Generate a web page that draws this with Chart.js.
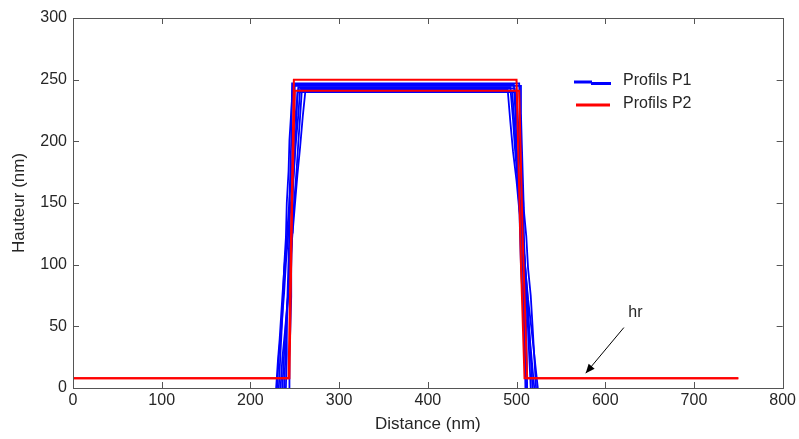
<!DOCTYPE html>
<html>
<head>
<meta charset="utf-8">
<script src="https://cdn.jsdelivr.net/npm/chart.js@4"></script>
<style>
  html, body { margin: 0; padding: 0; background: #fff; }
  #c { display: block; }
</style>
</head>
<body>
<canvas id="c" width="799" height="439"></canvas>
<script>
// ---- Data (nm) ----
const xTickValues = [0, 100, 200, 300, 400, 500, 600, 700, 800];
const yTickValues = [0, 50, 100, 150, 200, 250, 300];
const seriesNames = ['Profils P1', 'Profils P2'];

// Profils P1 (blue): [distance, hauteur]
const profilP1_1 = [[232,0],[234,30],[236,58],[238,98],[240,122],[241,150],[243,176],[244,201],[246,224],[248,246],[497,246],[499,220],[500,198],[502,172],[503,151],[504,124],[505,99],[507,70],[508,52],[511,0]];
const profilP1_2 = [[229,0],[231,22],[233,40],[236,74],[238,95],[241,121],[243,142],[246,172],[248,196],[251,222],[254,244],[493,244],[496,218],[498,196],[501,170],[503,148],[506,126],[508,100],[511,72],[514,48],[520,0]];
const profilP1_3 = [[236,0],[238,28],[240,52],[243,80],[245,104],[247,125],[249,148],[252,176],[254,199],[256,220],[258,242],[490,242],[493,216],[496,192],[500,168],[503,145],[507,122],[510,96],[513,72],[517,47],[524,0]];
const profilP1_4 = [[240,0],[241,27],[241,55],[242,80],[243,103],[244,128],[244,153],[245,176],[246,200],[247,247],[503,247],[504,222],[504,199],[505,174],[506,148],[507,126],[507,101],[508,76],[509,50],[510,0]];
const profilP1_5 = [[234,0],[236,24],[239,46],[242,72],[245,99],[247,121],[250,147],[253,173],[256,195],[259,220],[262,241],[495,241],[497,222],[499,198],[502,176],[504,152],[507,128],[509,104],[512,78],[514,51],[518,0]];
const profilP1_6 = [[244,0],[244,25],[245,48],[246,74],[246,97],[247,126],[247,152],[248,175],[249,198],[250,245],[505,245],[505,222],[506,197],[507,173],[508,150],[508,124],[509,98],[510,74],[511,49],[512,0]];
const profilP1_7 = [[230,0],[232,26],[235,50],[238,77],[240,101],[243,128],[246,153],[249,176],[251,197],[254,221],[256,243],[498,243],[500,219],[503,195],[506,170],[508,146],[511,123],[513,97],[516,75],[518,51],[522,0]];
const profilP1_8 = [[238,0],[240,35],[242,68],[244,101],[246,131],[248,162],[250,190],[252,218],[253,240],[500,240],[502,212],[504,183],[506,154],[508,126],[510,95],[512,63],[514,31],[516,0]];

// Profils P2 (red): [distance, hauteur]
const profilP2_1 = [[0,8],[243,8],[245,90],[249,250],[500,250],[505,100],[509,8],[750,8]];
const profilP2_2 = [[0,8],[244,8],[247,150],[250,241],[503,241],[507,120],[512,8],[750,8]];

// Annotation
const hrLabel = 'hr';
const hrTextPos = [634, 61];
const hrArrowFrom = [621, 49];
const hrArrowTo = [578, 12];

const blueProfiles = [profilP1_1, profilP1_2, profilP1_3, profilP1_4, profilP1_5, profilP1_6, profilP1_7, profilP1_8];
const redProfiles = [profilP2_1, profilP2_2];

const toPts = arr => arr.map(p => ({ x: p[0], y: p[1] }));

const datasets = [];
redProfiles.forEach(p => datasets.push({
  label: seriesNames[1], data: toPts(p), borderColor: '#ff0000', borderWidth: 2,
  pointRadius: 0, showLine: true, fill: false, tension: 0, order: 0
}));
blueProfiles.forEach(p => datasets.push({
  label: seriesNames[0], data: toPts(p), borderColor: '#0000ff', borderWidth: 1.8,
  pointRadius: 0, showLine: true, fill: false, tension: 0, order: 1
}));

const FONT = '"Liberation Sans", Arial, sans-serif';
const TXT = '#262626';

const decorPlugin = {
  id: 'decor',
  afterDatasetsDraw(chart) {
    const { ctx, chartArea: a, scales: { x, y } } = chart;
    ctx.save();
    // box
    ctx.strokeStyle = '#555';
    ctx.lineWidth = 1;
    ctx.strokeRect(Math.round(a.left) + 0.5, Math.round(a.top) + 0.5,
                   Math.round(a.right - a.left), Math.round(a.bottom - a.top));
    // inward ticks
    const tl = 6;
    ctx.beginPath();
    xTickValues.forEach(v => {
      const px = Math.round(x.getPixelForValue(v)) + 0.5;
      ctx.moveTo(px, a.bottom); ctx.lineTo(px, a.bottom - tl);
      ctx.moveTo(px, a.top); ctx.lineTo(px, a.top + tl);
    });
    yTickValues.forEach(v => {
      const py = Math.round(y.getPixelForValue(v)) + 0.5;
      ctx.moveTo(a.left, py); ctx.lineTo(a.left + tl, py);
      ctx.moveTo(a.right, py); ctx.lineTo(a.right - tl, py);
    });
    ctx.stroke();

    // arrow
    const fx = x.getPixelForValue(hrArrowFrom[0]), fy = y.getPixelForValue(hrArrowFrom[1]);
    const tx = x.getPixelForValue(hrArrowTo[0]), ty = y.getPixelForValue(hrArrowTo[1]);
    ctx.strokeStyle = '#000';
    ctx.fillStyle = '#000';
    ctx.lineWidth = 1;
    ctx.beginPath(); ctx.moveTo(fx, fy); ctx.lineTo(tx, ty); ctx.stroke();
    const ang = Math.atan2(ty - fy, tx - fx);
    const hl = 10, hw = 0.4;
    ctx.beginPath();
    ctx.moveTo(tx, ty);
    ctx.lineTo(tx - hl * Math.cos(ang - hw), ty - hl * Math.sin(ang - hw));
    ctx.lineTo(tx - hl * Math.cos(ang + hw), ty - hl * Math.sin(ang + hw));
    ctx.closePath(); ctx.fill();
    // hr text
    ctx.font = '16px ' + FONT;
    ctx.fillStyle = TXT;
    ctx.textAlign = 'center';
    ctx.textBaseline = 'middle';
    ctx.fillText(hrLabel, x.getPixelForValue(hrTextPos[0]), y.getPixelForValue(hrTextPos[1]));

    // legend
    ctx.lineWidth = 3;
    ctx.strokeStyle = '#0000ff';
    ctx.beginPath(); ctx.moveTo(574, 82); ctx.lineTo(592, 82); ctx.stroke();
    ctx.beginPath(); ctx.moveTo(591, 83.5); ctx.lineTo(611, 83.5); ctx.stroke();
    ctx.strokeStyle = '#ff0000';
    ctx.beginPath(); ctx.moveTo(576, 105); ctx.lineTo(610, 105); ctx.stroke();
    ctx.fillStyle = TXT;
    ctx.textAlign = 'left';
    ctx.font = '16px ' + FONT;
    ctx.fillText(seriesNames[0], 623, 81);
    ctx.fillText(seriesNames[1], 623, 104);
    ctx.restore();
  }
};

new Chart(document.getElementById('c'), {
  type: 'scatter',
  data: { datasets },
  options: {
    responsive: false,
    animation: false,
    events: [],
    layout: { padding: { top: 18, right: 15, left: 0, bottom: 0 } },
    plugins: { legend: { display: false }, tooltip: { enabled: false } },
    scales: {
      x: {
        type: 'linear', min: 0, max: 800,
        afterBuildTicks: s => { s.ticks = xTickValues.map(v => ({ value: v })); },
        afterFit: s => { s.height = 51; },
        grid: { drawOnChartArea: false, drawTicks: false },
        border: { display: false },
        ticks: { color: TXT, font: { family: FONT, size: 16 }, padding: 3, maxRotation: 0 },
        title: { display: true, text: 'Distance (nm)', color: TXT, font: { family: FONT, size: 17 }, padding: { top: 2, bottom: 4 } }
      },
      y: {
        type: 'linear', min: 0, max: 300,
        afterBuildTicks: s => { s.ticks = yTickValues.map(v => ({ value: v })); },
        afterFit: s => { s.width = 73; },
        grid: { drawOnChartArea: false, drawTicks: false },
        border: { display: false },
        ticks: { color: TXT, font: { family: FONT, size: 16 }, padding: 6 },
        title: { display: true, text: 'Hauteur (nm)', color: TXT, font: { family: FONT, size: 17 }, padding: { top: 9, bottom: 2 } }
      }
    }
  },
  plugins: [decorPlugin]
});
</script>
</body>
</html>
